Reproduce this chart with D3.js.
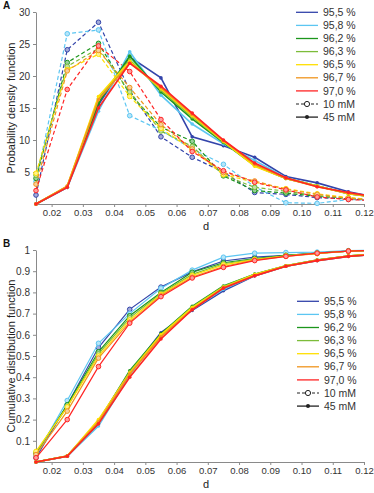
<!DOCTYPE html>
<html>
<head>
<meta charset="utf-8">
<script src="https://cdn.jsdelivr.net/npm/d3@7"></script>
<style>
  body { margin: 0; background: #fff; }
  svg { font-family: "Liberation Sans", Arial, Helvetica, sans-serif; }
  .axis path, .axis line { stroke: #8a8a8a; }
  .axis text { fill: #333; font-size: 10px; }
</style>
</head>
<body>
<svg id="chart" width="374" height="493"></svg>
<script>
var svg = d3.select("#chart");

// bin centres of d
var dBins = [0.015, 0.025, 0.035, 0.045, 0.055, 0.065, 0.075, 0.085, 0.095, 0.105, 0.115, 0.125];

var seriesLabels = ["95,5 %", "95,8 %", "96,2 %", "96,3 %", "96,5 %", "96,7 %", "97,0 %"];
var seriesColors = ["#3344aa", "#5cc6f2", "#1c961c", "#7cbc3a", "#ffdf00", "#f0951e", "#ff2424"];

var xTicks = [0.02, 0.03, 0.04, 0.05, 0.06, 0.07, 0.08, 0.09, 0.10, 0.11, 0.12];
var pdfTicks = [5, 10, 15, 20, 25, 30];
var cdfTicks = [0.1, 0.2, 0.3, 0.4, 0.5, 0.6, 0.7, 0.8, 0.9, 1];

// panel A, probability density, 10 mM (dashed)
var pdf10mM = [
  [1.4, 24.1, 28.4, 17.7, 10.5, 7.3, 5.0, 1.8, 1.5, 1.0, 0.8, 0.5],
  [3.5, 26.6, 27.2, 13.8, 11.5, 8.6, 6.2, 2.7, 0.2, 0.1, 0.7, 0.6],
  [4.0, 22.1, 25.1, 17.2, 12.0, 9.8, 4.4, 2.1, 1.7, 1.2, 0.9, 0.6],
  [4.5, 21.5, 24.3, 17.5, 11.4, 9.0, 4.5, 2.6, 2.0, 1.3, 0.9, 0.6],
  [4.8, 21.0, 23.4, 16.8, 11.8, 8.5, 4.6, 3.4, 2.4, 1.6, 1.0, 0.6],
  [3.1, 20.8, 24.0, 18.2, 12.4, 8.6, 4.9, 3.6, 2.3, 1.5, 0.9, 0.6],
  [2.1, 17.9, 24.7, 20.7, 13.2, 8.2, 5.2, 3.4, 2.2, 1.1, 0.7, 0.5]
];

// panel A, probability density, 45 mM (solid)
var pdf45mM = [
  [0, 2.6, 15.5, 23.0, 19.7, 10.5, 9.1, 7.3, 4.3, 3.3, 1.9, 1.0],
  [0, 2.6, 14.5, 23.8, 17.0, 12.5, 9.4, 6.8, 4.1, 2.8, 1.7, 1.0],
  [0, 2.7, 15.8, 23.1, 17.5, 13.3, 9.6, 6.0, 4.0, 2.8, 1.6, 1.0],
  [0, 2.7, 16.5, 22.5, 17.8, 13.6, 9.7, 6.0, 4.0, 2.8, 1.6, 1.0],
  [0, 2.8, 16.8, 22.3, 18.0, 13.8, 9.8, 5.9, 4.0, 2.8, 1.6, 1.0],
  [0, 2.8, 16.3, 22.0, 18.2, 14.0, 9.9, 6.2, 4.0, 2.7, 1.7, 1.0],
  [0, 2.6, 15.0, 22.0, 18.4, 14.2, 10.0, 6.4, 4.1, 2.7, 1.8, 1.0]
];

// panel B, cumulative distribution, 10 mM
var cdf10mM = [
  [0.02, 0.27, 0.54, 0.72, 0.825, 0.897, 0.948, 0.966, 0.975, 0.985, 0.995, 1.0],
  [0.03, 0.29, 0.56, 0.70, 0.82, 0.905, 0.966, 0.985, 0.988, 0.99, 0.997, 1.0],
  [0.04, 0.27, 0.52, 0.69, 0.80, 0.895, 0.94, 0.96, 0.975, 0.985, 0.995, 1.0],
  [0.045, 0.26, 0.51, 0.68, 0.795, 0.885, 0.935, 0.957, 0.973, 0.984, 0.994, 1.0],
  [0.05, 0.26, 0.50, 0.67, 0.79, 0.88, 0.93, 0.955, 0.972, 0.984, 0.994, 1.0],
  [0.035, 0.24, 0.49, 0.66, 0.785, 0.872, 0.922, 0.952, 0.97, 0.983, 0.994, 1.0],
  [0.02, 0.20, 0.45, 0.655, 0.78, 0.868, 0.918, 0.95, 0.97, 0.985, 0.995, 1.0]
];

// panel B, cumulative distribution, 45 mM
var cdf45mM = [
  [0, 0.027, 0.18, 0.42, 0.61, 0.715, 0.808, 0.878, 0.923, 0.95, 0.97, 0.98],
  [0, 0.027, 0.17, 0.41, 0.60, 0.72, 0.815, 0.88, 0.924, 0.951, 0.971, 0.98],
  [0, 0.028, 0.19, 0.43, 0.605, 0.734, 0.83, 0.886, 0.925, 0.953, 0.972, 0.982],
  [0, 0.028, 0.195, 0.425, 0.60, 0.73, 0.828, 0.885, 0.925, 0.953, 0.972, 0.982],
  [0, 0.028, 0.20, 0.42, 0.60, 0.728, 0.825, 0.884, 0.925, 0.952, 0.972, 0.982],
  [0, 0.028, 0.19, 0.415, 0.59, 0.72, 0.822, 0.88, 0.924, 0.951, 0.971, 0.981],
  [0, 0.027, 0.18, 0.40, 0.58, 0.718, 0.82, 0.878, 0.923, 0.95, 0.97, 0.98]
];

var xLeft = 36, xRight = 364;

function drawPanel(opt) {
  var xScale = d3.scaleLinear().domain([0.015, 0.12]).range([xLeft, xRight]);
  var yScale = d3.scaleLinear().domain(opt.yDomain).range([opt.bottom, opt.top]);

  var clipId = "clip" + opt.letter;
  svg.append("clipPath").attr("id", clipId)
    .append("rect")
    .attr("x", xLeft - 4).attr("y", opt.top - 4)
    .attr("width", xRight - xLeft + 4).attr("height", opt.bottom - opt.top + 8);

  // axes
  svg.append("g")
    .attr("class", "axis")
    .attr("transform", "translate(0," + opt.bottom + ")")
    .call(d3.axisBottom(xScale).tickValues(xTicks).tickSize(3).tickPadding(2).tickSizeOuter(0).tickFormat(d3.format(".2f")))
    .selectAll("text").style("font-size", "9.5px");

  svg.append("g")
    .attr("class", "axis")
    .attr("transform", "translate(" + xLeft + ",0)")
    .call(d3.axisLeft(yScale).tickValues(opt.yTicks).tickSize(3).tickSizeOuter(0).tickFormat(opt.yFormat));

  svg.append("text")
    .attr("x", 206).attr("y", opt.bottom + 26)
    .attr("text-anchor", "middle")
    .style("font-size", "11px").style("fill", "#222")
    .text("d");

  svg.append("text")
    .attr("transform", "translate(" + 15 + "," + ((opt.top + opt.bottom) / 2) + ")rotate(-90)")
    .attr("text-anchor", "middle")
    .style("font-size", "11px").style("fill", "#222")
    .text(opt.yLabel);

  svg.append("text")
    .attr("x", 3).attr("y", opt.top - 3)
    .style("font-size", "10px").style("font-weight", "bold").style("fill", "#111")
    .text(opt.letter);

  var plot = svg.append("g").attr("clip-path", "url(#" + clipId + ")");
  var line = d3.line()
    .x(function (d, i) { return xScale(dBins[i]); })
    .y(function (d) { return yScale(d); });

  // 10 mM curves
  opt.low.forEach(function (vals, s) {
    plot.append("path")
      .attr("d", line(vals))
      .attr("fill", "none")
      .attr("stroke", seriesColors[s])
      .attr("stroke-width", 1.2)
      .attr("stroke-dasharray", opt.dashLow ? "4,2.5" : null);
    plot.selectAll(null).data(vals).enter().append("circle")
      .attr("cx", function (d, i) { return xScale(dBins[i]); })
      .attr("cy", function (d) { return yScale(d); })
      .attr("r", 2.3)
      .attr("fill", d3.interpolateRgb(seriesColors[s], "#fff")(0.55))
      .attr("stroke", seriesColors[s])
      .attr("stroke-width", 1);
  });

  // 45 mM curves
  opt.high.forEach(function (vals, s) {
    plot.append("path")
      .attr("d", line(vals))
      .attr("fill", "none")
      .attr("stroke", seriesColors[s])
      .attr("stroke-width", 1.6);
    plot.selectAll(null).data(vals).enter().append("circle")
      .attr("cx", function (d, i) { return xScale(dBins[i]); })
      .attr("cy", function (d) { return yScale(d); })
      .attr("r", 1.8)
      .attr("fill", seriesColors[s]);
  });

  // legend
  var leg = svg.append("g");
  var x0 = opt.legX, x1 = opt.legX + 22;
  seriesLabels.forEach(function (lab, i) {
    var y = opt.legY + i * 13.1;
    leg.append("line").attr("x1", x0).attr("x2", x1).attr("y1", y).attr("y2", y)
      .attr("stroke", seriesColors[i]).attr("stroke-width", 1.3);
    leg.append("text").attr("x", x1 + 5).attr("y", y).attr("dy", "0.35em")
      .style("font-size", "10.5px").style("fill", "#333").text(lab);
  });
  var yLow = opt.legY + 7 * 13.1, yHigh = opt.legY + 8 * 13.1;
  leg.append("line").attr("x1", x0).attr("x2", x1).attr("y1", yLow).attr("y2", yLow)
    .attr("stroke", "#222").attr("stroke-width", 1).attr("stroke-dasharray", "3,2");
  leg.append("circle").attr("cx", (x0 + x1) / 2).attr("cy", yLow).attr("r", 2.6)
    .attr("fill", "#fff").attr("stroke", "#222").attr("stroke-width", 1);
  leg.append("text").attr("x", x1 + 5).attr("y", yLow).attr("dy", "0.35em")
    .style("font-size", "10.5px").style("fill", "#333").text("10 mM");
  leg.append("line").attr("x1", x0).attr("x2", x1).attr("y1", yHigh).attr("y2", yHigh)
    .attr("stroke", "#222").attr("stroke-width", 1.3);
  leg.append("circle").attr("cx", (x0 + x1) / 2).attr("cy", yHigh).attr("r", 2)
    .attr("fill", "#222");
  leg.append("text").attr("x", x1 + 5).attr("y", yHigh).attr("dy", "0.35em")
    .style("font-size", "10.5px").style("fill", "#333").text("45 mM");
}

drawPanel({
  letter: "A", top: 12, bottom: 204, yDomain: [0, 30], yTicks: pdfTicks,
  yFormat: d3.format("d"), yLabel: "Probability density function",
  low: pdf10mM, high: pdf45mM, dashLow: true, legX: 296, legY: 12.3
});

drawPanel({
  letter: "B", top: 250, bottom: 462, yDomain: [0, 1], yTicks: cdfTicks,
  yFormat: function (d) { return d === 1 ? "1" : d3.format(".1f")(d); },
  yLabel: "Cumulative distribution function",
  low: cdf10mM, high: cdf45mM, dashLow: false, legX: 297, legY: 301.3
});
</script>
</body>
</html>
